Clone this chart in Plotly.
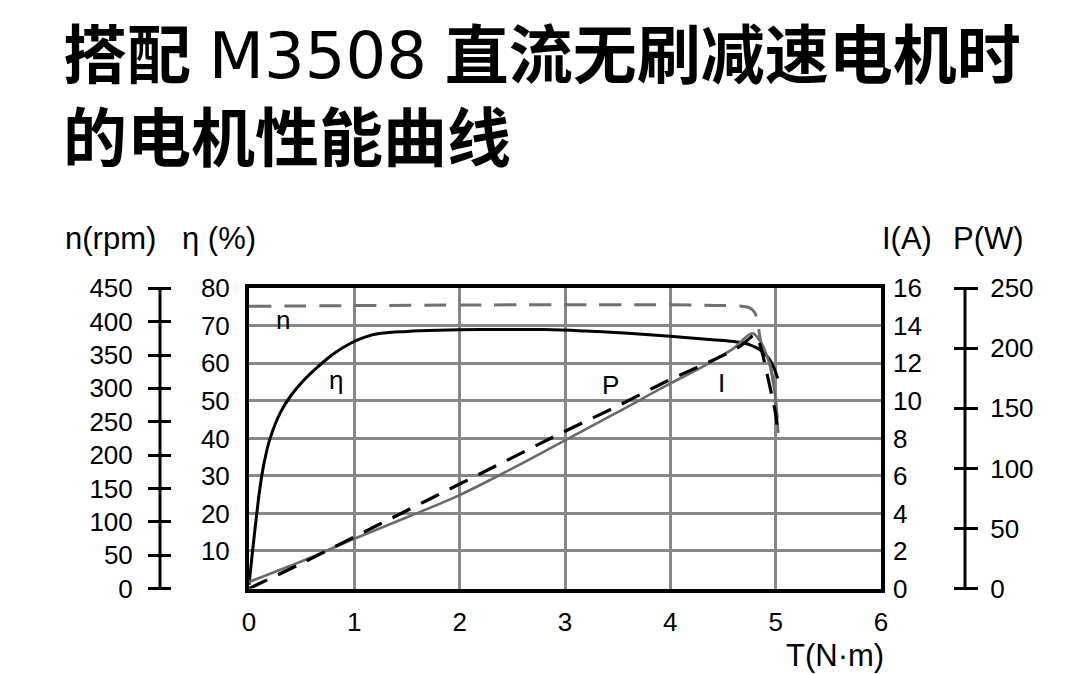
import plotly.graph_objects as go

# ---------------- data ----------------
T_eta = [0, 0.03, 0.07, 0.1, 0.14, 0.2, 0.3, 0.4, 0.52, 0.65, 0.8, 0.96, 1.1, 1.25,
         1.5, 1.8, 2.2, 2.8, 3.2, 3.6, 4.0, 4.4, 4.6, 4.75, 4.85, 4.93, 4.98, 5.02]
eta = [1, 9, 19, 26, 33, 40, 47, 51.5, 55.5, 59, 62.5, 65.3, 67, 68,
       68.5, 68.8, 69, 69, 68.6, 68, 67.2, 66.3, 65.8, 65, 63.6, 61.5, 59, 56]

T_n = [0, 4.68, 4.75, 4.8, 4.83, 4.86, 4.94, 4.99, 5.01, 5.025]
n_rpm = [423, 423, 421, 414, 398, 370, 339, 297, 264, 236]

T_P = [0, 0.5, 1, 1.5, 2, 2.5, 3, 3.5, 4, 4.4, 4.65, 4.81, 4.86, 4.92, 4.97, 5.0, 5.02]
P_w = [0, 21, 43, 65, 87, 109, 131, 152, 174, 190, 201, 211, 200, 178, 158, 145, 128]

T_I = [0, 0.5, 1, 1.5, 2, 2.5, 3, 3.5, 4, 4.3, 4.6, 4.78, 4.86, 4.94, 4.99, 5.01, 5.025]
I_a = [0.35, 1.45, 2.65, 3.8, 4.98, 6.4, 7.9, 9.4, 10.93, 11.8, 12.8, 13.6, 13.1, 12.0, 10.5, 9.3, 8.3]

x_ticks = [0, 1, 2, 3, 4, 5, 6]
eta_ticks = [10, 20, 30, 40, 50, 60, 70, 80]
n_ticks = [0, 50, 100, 150, 200, 250, 300, 350, 400, 450]
I_ticks = [0, 2, 4, 6, 8, 10, 12, 14, 16]
P_ticks = [0, 50, 100, 150, 200, 250]

title_line1 = ("<b>搭配</b> <span style=\"font-family:'DejaVu Sans'\">M3508</span> "
               "<b>直流无刷减速电机时</b>")
title_line2 = "<b>的电机性能曲线</b>"

# ---------------- layout helpers ----------------
W, H = 1089, 674


def px(x):
    return x / W


def py(y):
    return 1 - y / H


FONT = "Liberation Sans, Arial, Noto Sans CJK SC, sans-serif"
GRID = "#878787"
DOM_X = [px(249), px(881)]
DOM_Y = [py(588.5), py(288.3)]

fig = go.Figure()

# speed (gray dashed)
fig.add_trace(go.Scatter(x=T_n, y=n_rpm, yaxis="y2", mode="lines",
                         line=dict(color="#707070", width=3, dash="22px,13px"),
                         line_shape="spline", hoverinfo="skip"))
# current (gray solid)
fig.add_trace(go.Scatter(x=T_I, y=I_a, yaxis="y3", mode="lines",
                         line=dict(color="#6a6a6a", width=2.6), line_shape="spline",
                         hoverinfo="skip"))
# power (black dashed)
fig.add_trace(go.Scatter(x=T_P, y=P_w, yaxis="y4", mode="lines",
                         line=dict(color="black", width=3.2, dash="20px,12px"),
                         line_shape="spline", hoverinfo="skip"))
# efficiency (black solid)
fig.add_trace(go.Scatter(x=T_eta, y=eta, yaxis="y", mode="lines",
                         line=dict(color="black", width=3), line_shape="spline",
                         hoverinfo="skip"))

tickfont = dict(family=FONT, size=26, color="black")

fig.update_layout(
    width=W, height=H,
    margin=dict(l=0, r=0, t=0, b=0, pad=0, autoexpand=False),
    paper_bgcolor="white", plot_bgcolor="white",
    showlegend=False,
    xaxis=dict(domain=DOM_X, range=[0, 6], tickvals=x_ticks,
               showgrid=True, gridcolor=GRID, gridwidth=3,
               showline=True, linecolor="black", linewidth=4, mirror=True,
               ticks="", zeroline=False, tickfont=tickfont,
               ticklabelstandoff=7, automargin=False),
    yaxis=dict(domain=DOM_Y, range=[0, 80], tickvals=eta_ticks,
               showgrid=True, gridcolor=GRID, gridwidth=3,
               showline=True, linecolor="black", linewidth=4, mirror=True,
               ticks="", zeroline=False, tickfont=tickfont,
               ticklabelstandoff=10, automargin=False),
    # n axis: ticks start at right end and run through the axis line
    yaxis2=dict(overlaying="y", anchor="free", position=px(171), side="left",
                range=[0, 450], tickvals=n_ticks, showgrid=False, zeroline=False,
                showline=False, ticks="outside", ticklen=23, tickwidth=3,
                tickcolor="black", tickfont=tickfont, ticklabelstandoff=10,
                automargin=False),
    yaxis3=dict(overlaying="y", anchor="x", side="right", range=[0, 16],
                tickvals=I_ticks, showgrid=False, zeroline=False, showline=False,
                ticks="", tickfont=tickfont, ticklabelstandoff=11, automargin=False),
    # P axis: ticks start at left end and run through the axis line
    yaxis4=dict(overlaying="y", anchor="free", position=px(953), side="right",
                range=[0, 250], tickvals=P_ticks, showgrid=False, zeroline=False,
                showline=False, ticks="outside", ticklen=24, tickwidth=3,
                tickcolor="black", tickfont=tickfont, ticklabelstandoff=7,
                automargin=False),
    shapes=[
        dict(type="line", xref="paper", yref="paper", x0=px(160), x1=px(160),
             y0=DOM_Y[0], y1=DOM_Y[1], line=dict(color="black", width=3)),
        dict(type="line", xref="paper", yref="paper", x0=px(965), x1=px(965),
             y0=DOM_Y[0], y1=DOM_Y[1], line=dict(color="black", width=3)),
    ],
)

ann = []
# title
ann.append(dict(text=title_line1 + "<br>" + title_line2, xref="paper", yref="paper",
                x=px(61), y=py(97), xanchor="left", yanchor="middle", align="left",
                showarrow=False, font=dict(family=FONT, size=64, color="black")))
# axis titles
axis_font = dict(family=FONT, size=31, color="black")
for txt, cx, cy in [("n(rpm)", 110, 239), ("η (%)", 219, 239),
                    ("I(A)", 907, 239), ("P(W)", 988, 239)]:
    ann.append(dict(text=txt, xref="paper", yref="paper", x=px(cx), y=py(cy),
                    xanchor="center", yanchor="middle", showarrow=False, font=axis_font))
ann.append(dict(text="T(N·m)", xref="paper", yref="paper", x=px(886), y=py(655),
                xanchor="right", yanchor="middle", showarrow=False, font=axis_font))
# curve labels
lab_font = dict(family=FONT, size=26, color="black")
for txt, tx, ty in [("n", 0.32, 71.5), ("η", 0.83, 55.5), ("P", 3.43, 54.3), ("I", 4.49, 54.7)]:
    ann.append(dict(text=txt, xref="x", yref="y", x=tx, y=ty, xanchor="center",
                    yanchor="middle", showarrow=False, font=lab_font))

fig.update_layout(annotations=ann)

fig.write_html("out.html")
